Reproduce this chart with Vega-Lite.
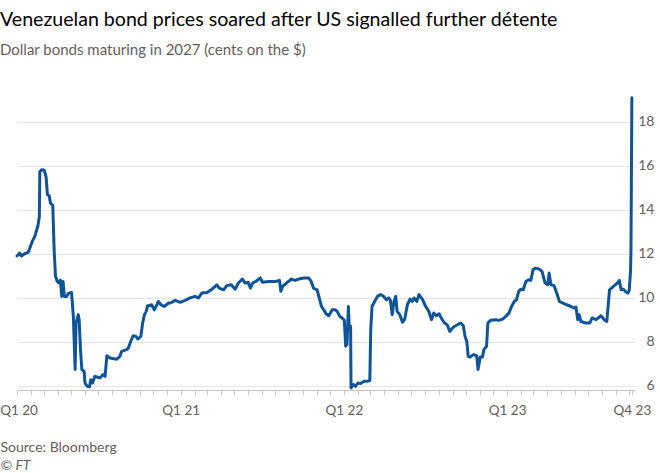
{
  "$schema": "https://vega.github.io/schema/vega-lite/v6.json",
  "width": 618,
  "height": 301,
  "autosize": {"type": "none"},
  "padding": {"left": 17, "top": 89, "right": 25, "bottom": 83},
  "background": "#ffffff",
  "config": {
    "view": {"stroke": null},
    "font": "Lato"
  },
  "title": {
    "text": "Venezuelan bond prices soared after US signalled further détente",
    "subtitle": "Dollar bonds maturing in 2027 (cents on the $)",
    "anchor": "start",
    "frame": "group",
    "dx": -17,
    "offset": 30,
    "font": "Lato",
    "fontSize": 19.6,
    "fontWeight": "normal",
    "color": "#000000",
    "subtitleFont": "Lato",
    "subtitleFontSize": 15,
    "subtitleColor": "#66605c",
    "subtitlePadding": 12
  },
  "data": {
    "values": [
      {"date": "2020-01-01", "price": 11.9},
      {"date": "2020-01-07", "price": 12.03},
      {"date": "2020-01-11", "price": 11.9},
      {"date": "2020-01-18", "price": 12.0},
      {"date": "2020-01-26", "price": 12.06},
      {"date": "2020-01-31", "price": 12.33},
      {"date": "2020-02-05", "price": 12.6},
      {"date": "2020-02-10", "price": 12.8},
      {"date": "2020-02-17", "price": 13.3},
      {"date": "2020-02-20", "price": 13.7},
      {"date": "2020-02-21", "price": 15.74},
      {"date": "2020-02-25", "price": 15.82},
      {"date": "2020-03-02", "price": 15.8},
      {"date": "2020-03-06", "price": 15.5},
      {"date": "2020-03-09", "price": 14.7},
      {"date": "2020-03-13", "price": 14.64},
      {"date": "2020-03-16", "price": 14.3},
      {"date": "2020-03-21", "price": 14.2},
      {"date": "2020-03-24", "price": 12.2},
      {"date": "2020-03-27", "price": 11.0},
      {"date": "2020-03-31", "price": 10.74},
      {"date": "2020-04-04", "price": 10.67},
      {"date": "2020-04-07", "price": 10.8},
      {"date": "2020-04-10", "price": 10.06},
      {"date": "2020-04-13", "price": 10.74},
      {"date": "2020-04-16", "price": 10.06},
      {"date": "2020-04-21", "price": 10.06},
      {"date": "2020-04-25", "price": 10.2},
      {"date": "2020-05-02", "price": 10.24},
      {"date": "2020-05-06", "price": 9.15},
      {"date": "2020-05-08", "price": 7.94},
      {"date": "2020-05-10", "price": 6.73},
      {"date": "2020-05-12", "price": 8.85},
      {"date": "2020-05-17", "price": 9.23},
      {"date": "2020-05-19", "price": 9.0},
      {"date": "2020-05-22", "price": 7.64},
      {"date": "2020-05-25", "price": 6.73},
      {"date": "2020-05-30", "price": 6.65},
      {"date": "2020-06-01", "price": 6.12},
      {"date": "2020-06-06", "price": 5.97},
      {"date": "2020-06-11", "price": 5.94},
      {"date": "2020-06-14", "price": 6.27},
      {"date": "2020-06-18", "price": 6.12},
      {"date": "2020-06-23", "price": 6.42},
      {"date": "2020-06-28", "price": 6.39},
      {"date": "2020-07-05", "price": 6.35},
      {"date": "2020-07-11", "price": 6.5},
      {"date": "2020-07-16", "price": 6.42},
      {"date": "2020-07-20", "price": 7.36},
      {"date": "2020-07-27", "price": 7.26},
      {"date": "2020-08-11", "price": 7.2},
      {"date": "2020-08-18", "price": 7.33},
      {"date": "2020-08-22", "price": 7.56},
      {"date": "2020-09-02", "price": 7.64},
      {"date": "2020-09-06", "price": 7.71},
      {"date": "2020-09-11", "price": 8.0},
      {"date": "2020-09-17", "price": 8.27},
      {"date": "2020-09-23", "price": 8.24},
      {"date": "2020-09-27", "price": 8.12},
      {"date": "2020-10-04", "price": 8.24},
      {"date": "2020-10-08", "price": 8.85},
      {"date": "2020-10-12", "price": 9.23},
      {"date": "2020-10-16", "price": 9.38},
      {"date": "2020-10-19", "price": 9.64},
      {"date": "2020-10-23", "price": 9.64},
      {"date": "2020-10-28", "price": 9.68},
      {"date": "2020-11-03", "price": 9.45},
      {"date": "2020-11-07", "price": 9.6},
      {"date": "2020-11-12", "price": 9.83},
      {"date": "2020-11-18", "price": 9.68},
      {"date": "2020-11-25", "price": 9.6},
      {"date": "2020-12-05", "price": 9.76},
      {"date": "2020-12-09", "price": 9.76},
      {"date": "2020-12-20", "price": 9.88},
      {"date": "2020-12-31", "price": 9.79},
      {"date": "2021-01-11", "price": 9.88},
      {"date": "2021-01-22", "price": 9.99},
      {"date": "2021-02-02", "price": 10.06},
      {"date": "2021-02-10", "price": 9.99},
      {"date": "2021-02-17", "price": 10.21},
      {"date": "2021-03-01", "price": 10.24},
      {"date": "2021-03-12", "price": 10.39},
      {"date": "2021-03-23", "price": 10.59},
      {"date": "2021-03-28", "price": 10.44},
      {"date": "2021-04-07", "price": 10.36},
      {"date": "2021-04-14", "price": 10.55},
      {"date": "2021-04-24", "price": 10.59},
      {"date": "2021-05-03", "price": 10.39},
      {"date": "2021-05-10", "price": 10.67},
      {"date": "2021-05-19", "price": 10.85},
      {"date": "2021-05-25", "price": 10.67},
      {"date": "2021-06-01", "price": 10.7},
      {"date": "2021-06-06", "price": 10.44},
      {"date": "2021-06-11", "price": 10.67},
      {"date": "2021-06-18", "price": 10.74},
      {"date": "2021-06-28", "price": 10.9},
      {"date": "2021-07-03", "price": 10.7},
      {"date": "2021-07-17", "price": 10.74},
      {"date": "2021-08-01", "price": 10.74},
      {"date": "2021-08-10", "price": 10.79},
      {"date": "2021-08-13", "price": 10.29},
      {"date": "2021-08-17", "price": 10.52},
      {"date": "2021-08-30", "price": 10.74},
      {"date": "2021-09-06", "price": 10.85},
      {"date": "2021-09-14", "price": 10.79},
      {"date": "2021-09-22", "price": 10.85},
      {"date": "2021-10-03", "price": 10.9},
      {"date": "2021-10-14", "price": 10.9},
      {"date": "2021-10-20", "price": 10.74},
      {"date": "2021-10-25", "price": 10.44},
      {"date": "2021-11-02", "price": 10.36},
      {"date": "2021-11-06", "price": 10.06},
      {"date": "2021-11-12", "price": 9.6},
      {"date": "2021-11-17", "price": 9.45},
      {"date": "2021-11-22", "price": 9.27},
      {"date": "2021-11-28", "price": 9.18},
      {"date": "2021-12-06", "price": 9.45},
      {"date": "2021-12-13", "price": 9.45},
      {"date": "2021-12-17", "price": 9.38},
      {"date": "2021-12-23", "price": 9.15},
      {"date": "2021-12-28", "price": 9.08},
      {"date": "2022-01-02", "price": 8.97},
      {"date": "2022-01-05", "price": 7.79},
      {"date": "2022-01-07", "price": 8.62},
      {"date": "2022-01-08", "price": 7.86},
      {"date": "2022-01-11", "price": 9.6},
      {"date": "2022-01-13", "price": 8.62},
      {"date": "2022-01-16", "price": 8.7},
      {"date": "2022-01-17", "price": 5.89},
      {"date": "2022-01-22", "price": 6.05},
      {"date": "2022-01-27", "price": 5.97},
      {"date": "2022-02-01", "price": 6.12},
      {"date": "2022-02-07", "price": 6.09},
      {"date": "2022-02-15", "price": 6.2},
      {"date": "2022-02-24", "price": 6.2},
      {"date": "2022-02-28", "price": 6.23},
      {"date": "2022-03-02", "price": 8.55},
      {"date": "2022-03-05", "price": 9.6},
      {"date": "2022-03-09", "price": 9.76},
      {"date": "2022-03-17", "price": 10.06},
      {"date": "2022-03-24", "price": 10.14},
      {"date": "2022-03-31", "price": 10.06},
      {"date": "2022-04-06", "price": 9.91},
      {"date": "2022-04-11", "price": 9.99},
      {"date": "2022-04-15", "price": 9.88},
      {"date": "2022-04-19", "price": 9.23},
      {"date": "2022-04-23", "price": 9.83},
      {"date": "2022-04-27", "price": 10.06},
      {"date": "2022-04-30", "price": 9.38},
      {"date": "2022-05-06", "price": 9.23},
      {"date": "2022-05-12", "price": 8.88},
      {"date": "2022-05-17", "price": 9.03},
      {"date": "2022-05-23", "price": 9.68},
      {"date": "2022-05-29", "price": 9.94},
      {"date": "2022-06-03", "price": 9.83},
      {"date": "2022-06-07", "price": 9.99},
      {"date": "2022-06-13", "price": 9.83},
      {"date": "2022-06-18", "price": 10.14},
      {"date": "2022-06-26", "price": 9.91},
      {"date": "2022-07-03", "price": 9.6},
      {"date": "2022-07-10", "price": 9.38},
      {"date": "2022-07-16", "price": 9.0},
      {"date": "2022-07-21", "price": 9.3},
      {"date": "2022-07-27", "price": 9.18},
      {"date": "2022-08-02", "price": 9.27},
      {"date": "2022-08-05", "price": 9.15},
      {"date": "2022-08-09", "price": 9.0},
      {"date": "2022-08-14", "price": 8.85},
      {"date": "2022-08-20", "price": 8.77},
      {"date": "2022-08-26", "price": 8.47},
      {"date": "2022-09-03", "price": 8.67},
      {"date": "2022-09-12", "price": 8.77},
      {"date": "2022-09-19", "price": 8.85},
      {"date": "2022-09-25", "price": 8.73},
      {"date": "2022-09-29", "price": 8.24},
      {"date": "2022-10-03", "price": 8.0},
      {"date": "2022-10-06", "price": 7.33},
      {"date": "2022-10-10", "price": 7.3},
      {"date": "2022-10-18", "price": 7.41},
      {"date": "2022-10-25", "price": 7.36},
      {"date": "2022-10-28", "price": 6.73},
      {"date": "2022-11-02", "price": 7.3},
      {"date": "2022-11-07", "price": 7.3},
      {"date": "2022-11-10", "price": 7.64},
      {"date": "2022-11-16", "price": 7.79},
      {"date": "2022-11-19", "price": 8.85},
      {"date": "2022-11-25", "price": 8.97},
      {"date": "2022-12-07", "price": 9.0},
      {"date": "2022-12-14", "price": 8.97},
      {"date": "2022-12-22", "price": 9.03},
      {"date": "2022-12-29", "price": 9.15},
      {"date": "2023-01-05", "price": 9.3},
      {"date": "2023-01-11", "price": 9.6},
      {"date": "2023-01-17", "price": 9.83},
      {"date": "2023-01-22", "price": 9.91},
      {"date": "2023-01-27", "price": 10.29},
      {"date": "2023-02-01", "price": 10.39},
      {"date": "2023-02-06", "price": 10.36},
      {"date": "2023-02-12", "price": 10.74},
      {"date": "2023-02-18", "price": 10.82},
      {"date": "2023-02-23", "price": 10.79},
      {"date": "2023-02-28", "price": 11.27},
      {"date": "2023-03-06", "price": 11.35},
      {"date": "2023-03-14", "price": 11.3},
      {"date": "2023-03-20", "price": 11.2},
      {"date": "2023-03-27", "price": 10.67},
      {"date": "2023-04-02", "price": 10.59},
      {"date": "2023-04-05", "price": 11.12},
      {"date": "2023-04-09", "price": 10.59},
      {"date": "2023-04-16", "price": 10.55},
      {"date": "2023-04-22", "price": 10.21},
      {"date": "2023-04-28", "price": 9.83},
      {"date": "2023-05-05", "price": 9.76},
      {"date": "2023-05-14", "price": 9.68},
      {"date": "2023-05-24", "price": 9.6},
      {"date": "2023-05-31", "price": 9.53},
      {"date": "2023-06-04", "price": 9.57},
      {"date": "2023-06-08", "price": 9.0},
      {"date": "2023-06-11", "price": 9.23},
      {"date": "2023-06-15", "price": 8.92},
      {"date": "2023-06-26", "price": 8.85},
      {"date": "2023-07-05", "price": 8.85},
      {"date": "2023-07-10", "price": 9.08},
      {"date": "2023-07-19", "price": 9.0},
      {"date": "2023-07-30", "price": 9.18},
      {"date": "2023-08-06", "price": 9.0},
      {"date": "2023-08-12", "price": 8.92},
      {"date": "2023-08-18", "price": 10.36},
      {"date": "2023-08-25", "price": 10.48},
      {"date": "2023-08-31", "price": 10.59},
      {"date": "2023-09-05", "price": 10.67},
      {"date": "2023-09-09", "price": 10.79},
      {"date": "2023-09-13", "price": 10.36},
      {"date": "2023-09-18", "price": 10.39},
      {"date": "2023-09-22", "price": 10.29},
      {"date": "2023-09-28", "price": 10.21},
      {"date": "2023-10-01", "price": 10.33},
      {"date": "2023-10-04", "price": 11.2},
      {"date": "2023-10-05", "price": 12.2},
      {"date": "2023-10-07", "price": 19.1}
    ]
  },
  "mark": {"type": "line", "color": "#0f5499", "strokeWidth": 3, "strokeJoin": "round", "strokeCap": "round"},
  "encoding": {
    "x": {
      "field": "date",
      "type": "temporal",
      "scale": {"domain": [{"year": 2020, "month": 1, "date": 1}, {"year": 2023, "month": 10, "date": 14}]},
      "axis": {
        "title": "Source: Bloomberg",
        "titleAnchor": "start",
        "titleAlign": "left",
        "titleBaseline": "middle",
        "titleX": -17,
        "titleY": 57,
        "titleFont": "Lato",
        "titleFontSize": 14,
        "titleFontWeight": "normal",
        "titleColor": "#66605c",
        "grid": false,
        "domainColor": "#c7c2bd",
        "tickColor": "#c7c2bd",
        "tickSize": 5,
        "labelPadding": 8,
        "labelFont": "Lato",
        "labelFontSize": 13.5,
        "labelColor": "#66605c",
        "labelFlush": false,
        "labelOverlap": false,
        "labelBound": false,
        "labelOffset": {"condition": {"test": "year(datum.value) == 2020 && month(datum.value) == 0", "value": 1.5}, "value": 0},
        "values": [
          {"year": 2020, "month": 1, "date": 1}, {"year": 2020, "month": 2, "date": 1}, {"year": 2020, "month": 3, "date": 1},
          {"year": 2020, "month": 4, "date": 1}, {"year": 2020, "month": 5, "date": 1}, {"year": 2020, "month": 6, "date": 1},
          {"year": 2020, "month": 7, "date": 1}, {"year": 2020, "month": 8, "date": 1}, {"year": 2020, "month": 9, "date": 1},
          {"year": 2020, "month": 10, "date": 1}, {"year": 2020, "month": 11, "date": 1}, {"year": 2020, "month": 12, "date": 1},
          {"year": 2021, "month": 1, "date": 1}, {"year": 2021, "month": 2, "date": 1}, {"year": 2021, "month": 3, "date": 1},
          {"year": 2021, "month": 4, "date": 1}, {"year": 2021, "month": 5, "date": 1}, {"year": 2021, "month": 6, "date": 1},
          {"year": 2021, "month": 7, "date": 1}, {"year": 2021, "month": 8, "date": 1}, {"year": 2021, "month": 9, "date": 1},
          {"year": 2021, "month": 10, "date": 1}, {"year": 2021, "month": 11, "date": 1}, {"year": 2021, "month": 12, "date": 1},
          {"year": 2022, "month": 1, "date": 1}, {"year": 2022, "month": 2, "date": 1}, {"year": 2022, "month": 3, "date": 1},
          {"year": 2022, "month": 4, "date": 1}, {"year": 2022, "month": 5, "date": 1}, {"year": 2022, "month": 6, "date": 1},
          {"year": 2022, "month": 7, "date": 1}, {"year": 2022, "month": 8, "date": 1}, {"year": 2022, "month": 9, "date": 1},
          {"year": 2022, "month": 10, "date": 1}, {"year": 2022, "month": 11, "date": 1}, {"year": 2022, "month": 12, "date": 1},
          {"year": 2023, "month": 1, "date": 1}, {"year": 2023, "month": 2, "date": 1}, {"year": 2023, "month": 3, "date": 1},
          {"year": 2023, "month": 4, "date": 1}, {"year": 2023, "month": 5, "date": 1}, {"year": 2023, "month": 6, "date": 1},
          {"year": 2023, "month": 7, "date": 1}, {"year": 2023, "month": 8, "date": 1}, {"year": 2023, "month": 9, "date": 1},
          {"year": 2023, "month": 10, "date": 1}, {"year": 2023, "month": 10, "date": 7}
        ],
        "labelExpr": "month(datum.value) == 0 && date(datum.value) == 1 ? 'Q1 ' + timeFormat(datum.value, '%y') : (month(datum.value) == 9 && date(datum.value) == 7 ? 'Q4 23' : '')"
      }
    },
    "y": {
      "field": "price",
      "type": "quantitative",
      "scale": {"domain": [5.8, 19.5], "nice": false, "zero": false},
      "axis": {
        "orient": "right",
        "values": [6, 8, 10, 12, 14, 16, 18],
        "title": "© FT",
        "titleAngle": 0,
        "titleAnchor": "start",
        "titleAlign": "left",
        "titleBaseline": "middle",
        "titleX": -635,
        "titleY": 376,
        "titleFont": "Lato",
        "titleFontSize": 14,
        "titleFontStyle": "italic",
        "titleFontWeight": "normal",
        "titleColor": "#66605c",
        "grid": true,
        "gridColor": "#e6e3e0",
        "gridWidth": 1,
        "domain": false,
        "ticks": false,
        "labelAlign": "right",
        "labelPadding": 19,
        "labelFont": "Lato",
        "labelFontSize": 14,
        "labelColor": "#66605c"
      }
    }
  }
}
